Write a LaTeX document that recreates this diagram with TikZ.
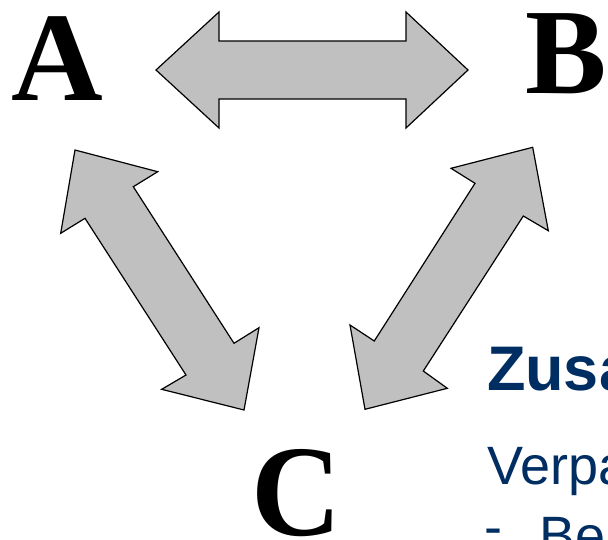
\documentclass[tikz,border=0pt]{standalone}
\usepackage{fontspec}
\setmainfont{Liberation Serif}
\newfontfamily\arialfont{Liberation Sans}
\definecolor{navy}{RGB}{0,46,99}
\definecolor{arrowgray}{RGB}{192,192,192}
\begin{document}
\begin{tikzpicture}[x=1pt,y=-1pt,
  blockarrow/.style={draw=black,fill=arrowgray,line width=1.2pt,line join=miter},
  letter/.style={inner sep=0pt,outer sep=0pt,anchor=base west,font=\bfseries\fontsize{122}{122}\selectfont},
  head/.style={inner sep=0pt,outer sep=0pt,anchor=base west,text=navy,font=\arialfont\bfseries\fontsize{63}{63}\selectfont},
  body/.style={inner sep=0pt,outer sep=0pt,anchor=base west,text=navy,font=\arialfont\fontsize{54}{54}\selectfont}]
\useasboundingbox (0,0) rectangle (608,539);
\clip (0,0) rectangle (608,539);
% letters
\node[letter,font=\bfseries\fontsize{127}{127}\selectfont] (A) at (12,100) {A};
\node[letter] (B) at (525,93) {B};
\node[letter,font=\bfseries\fontsize{130}{130}\selectfont,xscale=0.96] (C) at (251.5,535) {C};
% double arrows
\draw[blockarrow] (156,70) -- (219,12) -- (219,41) -- (406,41) -- (406,12) -- (468,70)
  -- (406,128) -- (406,99) -- (219,99) -- (219,128) -- cycle;
\draw[blockarrow] (75,150) -- (157.7,171.7) -- (133.3,186.7) -- (234,343.3) -- (259,327.7)
  -- (244,410) -- (161.7,389.3) -- (186,375) -- (85,218.3) -- (60.7,233.3) -- cycle;
\draw[blockarrow] (532.7,147.3) -- (548.3,230.7) -- (523.3,216) -- (423.3,371) -- (447.3,388.3)
  -- (365,409.3) -- (350,325) -- (374.3,341) -- (475,183.3) -- (451,168.3) -- cycle;
% text
\node[head] (zus) at (487,390) {Zusa};
\node[body] (verp) at (487,484) {Verpa};
\node[body] (dash) at (484,545) {-};
\node[body] (bei) at (539,554) {Bei};
\end{tikzpicture}
\end{document}
